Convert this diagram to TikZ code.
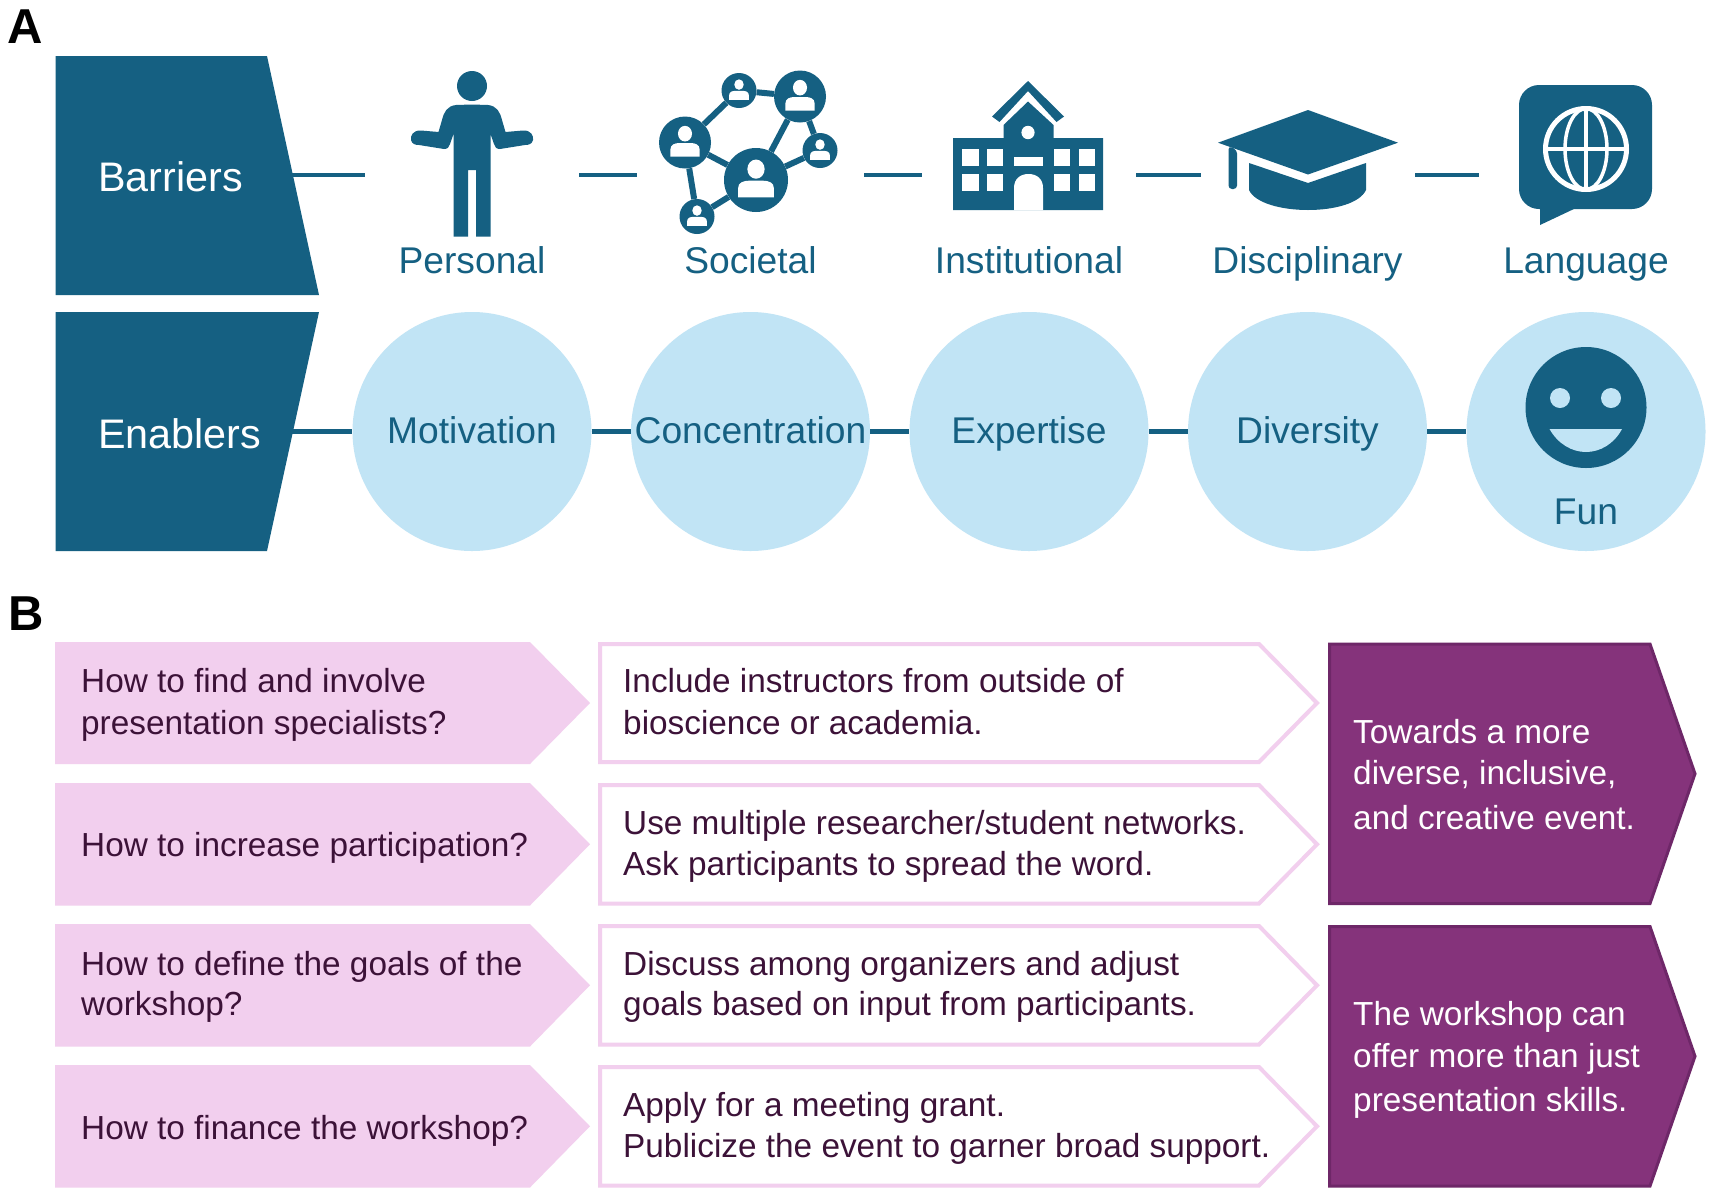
\documentclass[tikz,border=0pt]{standalone}
\usepackage{fontspec}
\setmainfont{Liberation Sans}
\definecolor{teal}{HTML}{156082}
\definecolor{sky}{HTML}{C1E4F5}
\definecolor{pinkf}{HTML}{F2CFEE}
\definecolor{plum}{HTML}{85337B}
\definecolor{plumd}{HTML}{6E2768}
\definecolor{ink}{HTML}{3C1238}
\newcommand{\fsTop}{\fontsize{37.2}{44}\selectfont}
\newcommand{\fsHead}{\fontsize{41.3}{48}\selectfont}
\newcommand{\fsB}{\fontsize{33.35}{41.5}\selectfont}
\newcommand{\fsP}{\fontsize{49}{54}\bfseries\selectfont}
\tikzset{
  panel/.style={anchor=base west,inner sep=0pt,font=\fsP,text=black},
  head/.style={anchor=base west,inner sep=0pt,font=\fsHead,text=white},
  toplab/.style={anchor=base,inner sep=0pt,font=\fsTop,text=teal},
  link/.style={draw=teal,line width=4.5pt},
  disc/.style={circle,fill=sky,inner sep=0pt,minimum size=239pt},
  net/.style={circle,fill=teal,inner sep=0pt},
  ask/.style={anchor=base west,inner sep=0pt,font=\fsB,text=ink,align=left},
  reply/.style={anchor=base west,inner sep=0pt,font=\fsB,text=white,align=left},
  qbox/.style={fill=pinkf},
  abox/.style={draw=pinkf,line width=4pt,fill=white,miter limit=10},
  rbox/.style={draw=plumd,line width=3pt,fill=plum},
}
\newcommand{\netperson}[3]{% x y r
  \fill[white] (#1,#2-0.34*#3) ellipse[x radius=0.27*#3,y radius=0.3*#3];
  \fill[white] (#1-0.56*#3,#2+0.54*#3) -- (#1-0.56*#3,#2+0.26*#3) .. controls (#1-0.56*#3,#2+0.08*#3) and (#1-0.4*#3,#2+0.02*#3) .. (#1-0.2*#3,#2+0.02*#3) -- (#1+0.2*#3,#2+0.02*#3) .. controls (#1+0.4*#3,#2+0.02*#3) and (#1+0.56*#3,#2+0.08*#3) .. (#1+0.56*#3,#2+0.26*#3) -- (#1+0.56*#3,#2+0.54*#3) -- cycle;
}
\newcommand{\qarrow}[2]{% top y, bottom y
  \fill[qbox] (55,#1) -- (530,#1) -- (590,{(#1+#2)/2}) -- (530,#2) -- (55,#2) -- cycle;
}
\newcommand{\aarrow}[2]{%
  \filldraw[abox] (600,#1+2) -- (1259,#1+2) -- (1317,{(#1+#2)/2}) -- (1259,#2-2) -- (600,#2-2) -- cycle;
}
\newcommand{\rarrow}[2]{%
  \filldraw[rbox] (1329.5,#1+1.5) -- (1650,#1+1.5) -- (1695,{(#1+#2)/2}) -- (1650,#2-1.5) -- (1329.5,#2-1.5) -- cycle;
}
\begin{document}
\begin{tikzpicture}[x=1pt,y=-1pt]
\useasboundingbox (0,0) rectangle (1713,1195);
\fill[white] (0,0) rectangle (1713,1195);

\node[panel] (lA) at (7.5,43) {A};
\node[panel] (lB) at (8,630) {B};

% ---------- barrier / enabler banners
\fill[teal] (55.5,56) -- (267,56) -- (319,295) -- (55.5,295) -- cycle;
\fill[teal] (55.5,312) -- (319,312) -- (267,551) -- (55.5,551) -- cycle;
\node[head] (barriers) at (98,191) {Barriers};
\node[head] (enablers) at (98,448) {Enablers};

% ---------- barrier connectors
\coordinate (b0) at (290,175); \coordinate (b1) at (365,175);
\coordinate (b2) at (579,175); \coordinate (b3) at (636.5,175);
\coordinate (b4) at (864,175); \coordinate (b5) at (922,175);
\coordinate (b6) at (1136,175); \coordinate (b7) at (1200.5,175);
\coordinate (b8) at (1415,175); \coordinate (b9) at (1479,175);
\draw[link] (b0) -- (b1);
\draw[link] (b2) -- (b3);
\draw[link] (b4) -- (b5);
\draw[link] (b6) -- (b7);
\draw[link] (b8) -- (b9);

% ---------- person icon
\fill[teal] (472,86) circle[radius=15];
\fill[teal]
  (472,104.5) -- (456,105) .. controls (447,106) and (444,112) .. (442,120) -- (438.5,132)
  -- (421,130.5) .. controls (413,130) and (410,136) .. (411,140) .. controls (412,144) and (415,145) .. (419,145)
  -- (444,149) .. controls (448,149) and (449,147) .. (450,144) -- (453.5,134)
  -- (453.5,236.5) -- (468,236.5) -- (468,170) -- (476,170) -- (476,236.5) -- (490.5,236.5) -- (490.5,134)
  -- (494,144) .. controls (495,147) and (496,149) .. (500,149)
  -- (525,145) .. controls (529,145) and (532,144) .. (533,140) .. controls (534,136) and (531,130) .. (523,130.5)
  -- (505.5,132) -- (502,120) .. controls (500,112) and (497,106) .. (488,105) -- cycle;

% ---------- network icon
\node[net,minimum size=64pt] (n1) at (756,180) {};
\node[net,minimum size=52pt] (n2) at (800,96.5) {};
\node[net,minimum size=35pt] (n3) at (739,90.5) {};
\node[net,minimum size=52pt] (n4) at (685,142.5) {};
\node[net,minimum size=35pt] (n5) at (820,150.5) {};
\node[net,minimum size=35pt] (n6) at (697,216.5) {};
\foreach \a/\b in {n3/n2,n3/n4,n2/n5,n5/n1,n4/n1,n1/n6,n4/n6,n2/n1}
  \draw[teal,line width=6pt] (\a) -- (\b);
\netperson{756}{180}{32}
\netperson{800}{96.5}{26}
\netperson{739}{90.5}{17.5}
\netperson{685}{142.5}{26}
\netperson{820}{150.5}{17.5}
\netperson{697}{216.5}{17.5}

% ---------- institution icon
\fill[teal] (953,138) -- (1003.5,138) -- (1003.5,125) -- (1028,101.5) -- (1053.5,125) -- (1053.5,138) -- (1103,138) -- (1103,210) -- (953,210) -- cycle;
\fill[teal] (1028,81) -- (1064,116.5) -- (1056.5,122) -- (1028,91) -- (999.5,122) -- (992,116.5) -- cycle;
\fill[white] (1028,132.5) ellipse[x radius=6.6,y radius=6.7];
\foreach \wx in {962,986.5,1053.5,1078.5}
  \foreach \wy in {149,174}
    \fill[white] (\wx,\wy) rectangle ++(16.5,17);
\fill[white] (1014,157) rectangle (1043,166);
\fill[white] (1014,210) -- (1014,188) .. controls (1014,179) and (1020,174) .. (1028.5,174) .. controls (1037,174) and (1043,179) .. (1043,188) -- (1043,210) -- cycle;

% ---------- graduation cap icon
\fill[teal] (1308,110) -- (1398,142.7) -- (1308,174.5) -- (1218,142.7) -- cycle;
\fill[teal] (1249,163) -- (1308,183) -- (1366,163) -- (1366,190) .. controls (1360,203) and (1335,210) .. (1308,210) .. controls (1281,210) and (1255,203) .. (1249,190) -- cycle;
\fill[teal,rounded corners=3.5pt] (1228.5,146) -- (1237,150) -- (1237,189) -- (1228.5,189) -- cycle;

% ---------- language icon
\fill[teal,rounded corners=20pt] (1519,85) rectangle (1652,209);
\fill[teal] (1540,200) -- (1540,225) -- (1576,208) -- cycle;
\draw[white,line width=5pt] (1586,149) circle[radius=40.5];
\draw[white,line width=3.5pt] (1586,149) ellipse[x radius=21,y radius=40.5];
\draw[white,line width=3.5pt] (1586,108) -- (1586,190);
\draw[white,line width=3.5pt] (1545,149) -- (1627,149);

% ---------- top labels
\node[toplab] (personal) at (472,273) {Personal};
\node[toplab] (societal) at (750.5,273) {Societal};
\node[toplab] (institutional) at (1029,273) {Institutional};
\node[toplab] (disciplinary) at (1307.5,273) {Disciplinary};
\node[toplab] (language) at (1586,273) {Language};

% ---------- enabler circles
\node[disc] (c1) at (472,431.5) {};
\node[disc] (c2) at (750.5,431.5) {};
\node[disc] (c3) at (1029,431.5) {};
\node[disc] (c4) at (1307.5,431.5) {};
\node[disc] (c5) at (1586,431.5) {};
\coordinate (e0) at (292,431.5);
\draw[link] (e0) -- (c1);
\draw[link] (c1) -- (c2);
\draw[link] (c2) -- (c3);
\draw[link] (c3) -- (c4);
\draw[link] (c4) -- (c5);
\node[toplab] (motivation) at (472,443.5) {Motivation};
\node[toplab] (concentration) at (750.5,443.5) {Concentration};
\node[toplab] (expertise) at (1029,443.5) {Expertise};
\node[toplab] (diversity) at (1307.5,443.5) {Diversity};
\node[toplab] (fun) at (1586,524) {Fun};

% ---------- smiley
\fill[teal] (1586,407.5) circle[radius=60.5];
\fill[sky] (1560,398) circle[radius=10];
\fill[sky] (1611,398) circle[radius=10];
\fill[sky] (1549.5,429) -- (1622,429) .. controls (1614,444) and (1600,452) .. (1586,452) .. controls (1572,452) and (1558,444) .. (1549.5,429) -- cycle;

% ---------- section B arrows
\qarrow{642}{764}
\qarrow{783}{905.5}
\qarrow{924}{1046.5}
\qarrow{1065}{1187.5}
\aarrow{642}{764}
\aarrow{783}{905.5}
\aarrow{924}{1046.5}
\aarrow{1065}{1187.5}
\rarrow{642.5}{905}
\rarrow{925}{1187.5}

\node[ask] (q1) at (81,734) {How to find and involve\\presentation specialists?};
\node[ask] (q2) at (81,856.5) {How to increase participation?};
\node[ask] (q3) at (81,1015.5) {How to define the goals of the\\[-1.5pt]workshop?};
\node[ask] (q4) at (81,1139.5) {How to finance the workshop?};
\node[ask] (a1) at (623,734) {Include instructors from outside of\\bioscience or academia.};
\node[ask] (a2) at (623,875.5) {Use multiple researcher/student networks.\\Ask participants to spread the word.};
\node[ask] (a3) at (623,1015.5) {Discuss among organizers and adjust\\[-1.5pt]goals based on input from participants.};
\node[ask] (a4) at (623,1157.5) {Apply for a meeting grant.\\Publicize the event to garner broad support.};
\node[reply] (r1) at (1353,829) {Towards a more\\diverse, inclusive,\\[3pt]and creative event.};
\node[reply] (r2) at (1353,1111.5) {The workshop can\\offer more than just\\[3pt]presentation skills.};
\end{tikzpicture}
\end{document}
